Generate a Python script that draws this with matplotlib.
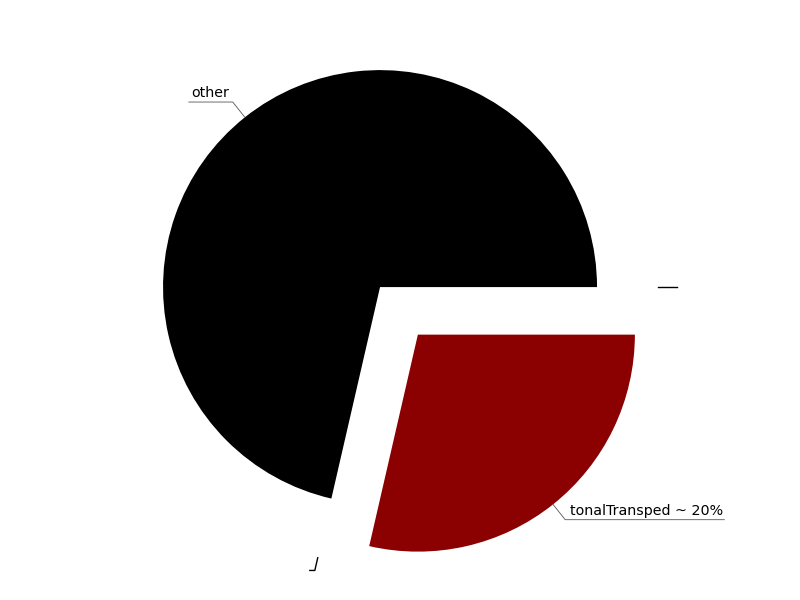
import numpy as np
import matplotlib.pyplot as plt

labels = ['other', '', 'tonalTransped ~ 20%', '']
shares = [71.4, 0, 28.6, 0]
colors = ['black', 'none', '#8b0000', 'none']
explode = [0, 0.28, 0.28, 0.28]

fig = plt.figure(figsize=(8, 6), dpi=100)
ax = fig.add_axes([0, 0, 1, 1])
wedges, _ = ax.pie(shares, colors=colors, explode=explode, startangle=0)
ax.set_xlim(-1.751, 1.935)
ax.set_ylim(-1.442, 1.323)
ax.set_aspect('equal')
ax.axis('off')

fig.canvas.draw()
renderer = fig.canvas.get_renderer()
px = 1 / 217.0  # one pixel in data units

for w, lab in zip(wedges, labels):
    ang = np.deg2rad((w.theta1 + w.theta2) / 2)
    cx, cy = w.center
    d = np.array([np.cos(ang), np.sin(ang)])
    p0 = np.array([cx, cy]) + w.r * 1.0 * d
    p1 = np.array([cx, cy]) + w.r * (1.09 if lab else 1.06) * d
    side = 1 if d[0] >= 0 else -1
    txt = ax.text(0, 0, lab, fontsize=10.3, va='bottom', ha='left')
    if lab:
        length = txt.get_window_extent(renderer).width * px + 6 * px
    else:
        length = (6 if side > 0 else 5) * px
    if side > 0:
        x_end = p1[0] + length
        txt.set_position((p1[0] + 5 * px, p1[1] + 2 * px))
    else:
        x_end = p1[0] - length
        txt.set_position((x_end + 2 * px, p1[1] + 2 * px))
    col, lw = ('#555555', 0.6) if lab else ('black', 1.0)
    ax.plot([p0[0], p1[0], x_end], [p0[1], p1[1], p1[1]], color=col, lw=lw)
    if not lab:
        txt.remove()

fig.savefig('out.png', dpi=100)
